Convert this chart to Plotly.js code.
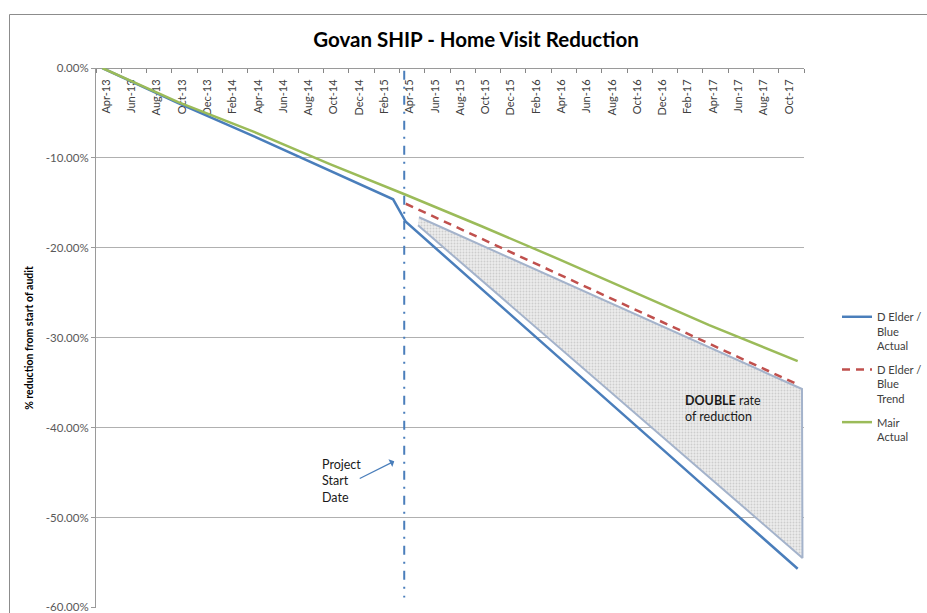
<!DOCTYPE html>
<html>
<head>
<meta charset="utf-8">
<script src="https://cdn.plot.ly/plotly-3.0.1.min.js"></script>
<style>
html,body{margin:0;padding:0;background:#fff;}
#chart{width:927px;height:613px;}
</style>
</head>
<body>
<div id="chart"></div>
<script>
// ---- data ----
const months = [
  'Apr-13','May-13','Jun-13','Jul-13','Aug-13','Sep-13','Oct-13','Nov-13','Dec-13','Jan-14','Feb-14','Mar-14',
  'Apr-14','May-14','Jun-14','Jul-14','Aug-14','Sep-14','Oct-14','Nov-14','Dec-14','Jan-15','Feb-15','Mar-15',
  'Apr-15','May-15','Jun-15','Jul-15','Aug-15','Sep-15','Oct-15','Nov-15','Dec-15','Jan-16','Feb-16','Mar-16',
  'Apr-16','May-16','Jun-16','Jul-16','Aug-16','Sep-16','Oct-16','Nov-16','Dec-16','Jan-17','Feb-17','Mar-17',
  'Apr-17','May-17','Jun-17','Jul-17','Aug-17','Sep-17','Oct-17','Nov-17'
];
const xTickLabels = ['Apr-13','Jun-13','Aug-13','Oct-13','Dec-13','Feb-14','Apr-14','Jun-14','Aug-14','Oct-14',
  'Dec-14','Feb-15','Apr-15','Jun-15','Aug-15','Oct-15','Dec-15','Feb-16','Apr-16','Jun-16','Aug-16','Oct-16',
  'Dec-16','Feb-17','Apr-17','Jun-17','Aug-17','Oct-17'];
const yTickValues = [0, -10, -20, -30, -40, -50, -60];
const yTickLabels = ['0.00%', '-10.00%', '-20.00%', '-30.00%', '-40.00%', '-50.00%', '-60.00%'];

const blueActualMonths = ['Apr-13','Oct-13','Apr-14','Oct-14','Mar-15','Apr-15','Oct-15','Apr-16','Oct-16','Apr-17','Nov-17'];
const blueActualValues = [0, -3.9, -7.6, -11.4, -14.6, -17.1, -24.6, -32.1, -39.5, -47.0, -55.7];

const blueTrendMonths = ['Apr-15','Nov-17'];
const blueTrendValues = [-15.1, -35.2];

const mairActualMonths = ['Apr-13','Oct-13','Apr-14','Oct-14','Apr-15','Oct-15','Apr-16','Oct-16','Apr-17','Nov-17'];
const mairActualValues = [0, -3.8, -7.1, -10.7, -14.1, -17.6, -21.2, -24.9, -28.6, -32.6];

// hand-drawn "double rate" region (month position, % reduction)
const regionMonthPos = [25.05, 55.34, 55.38, 24.97];
const regionValues = [-16.6, -35.7, -54.5, -17.5];

const projectStartMonth = 'Apr-15';

// ---- helpers ----
const pos = m => months.indexOf(m);
const FONT = 'Lato, "Open Sans", sans-serif';

const traces = [
  {
    x: regionMonthPos, y: regionValues, type: 'scatter', mode: 'lines',
    fill: 'toself', fillcolor: '#ebebeb',
    fillpattern: {shape: '.', bgcolor: '#ececec', fgcolor: '#cdcdcd', size: 3, solidity: 0.3},
    line: {color: '#a4b3cb', width: 2},
    showlegend: false, hoverinfo: 'skip'
  },
  {
    name: 'D Elder /<br>Blue<br>Actual', legendgroup: 'g1',
    x: blueActualMonths.map(pos), y: blueActualValues, type: 'scatter', mode: 'lines',
    line: {color: '#4a7ebb', width: 2.5}
  },
  {
    name: 'D Elder /<br>Blue<br>Trend', legendgroup: 'g2',
    x: blueTrendMonths.map(pos), y: blueTrendValues, type: 'scatter', mode: 'lines',
    line: {color: '#c0504d', width: 2.5, dash: '8px,6px'}
  },
  {
    name: 'Mair<br>Actual', legendgroup: 'g3',
    x: mairActualMonths.map(pos), y: mairActualValues, type: 'scatter', mode: 'lines',
    line: {color: '#9bbb59', width: 2.5}
  }
];

const layout = {
  width: 927, height: 613,
  margin: {l: 96, r: 123, t: 68, b: 5, pad: 0},
  paper_bgcolor: '#ffffff', plot_bgcolor: '#ffffff',
  font: {family: FONT, color: '#404040'},
  title: {
    text: '<b>Govan SHIP - Home Visit Reduction</b>',
    font: {family: FONT, size: 20.5, color: '#000000'},
    x: 0.5135, xanchor: 'center', y: 1 - 40/613, yanchor: 'middle'
  },
  xaxis: {
    type: 'linear', range: [-0.5, months.length - 0.5],
    anchor: 'free', position: 1, side: 'bottom',
    tickmode: 'array', tickvals: xTickLabels.map(pos), ticktext: xTickLabels,
    tickangle: -90, tickfont: {family: FONT, size: 11, color: '#404040'},
    ticks: 'outside', ticklen: 0, tickcolor: '#868686',
    ticklabelshift: 4, ticklabelstandoff: 6,
    minor: {tickmode: 'linear', tick0: -0.5, dtick: 2, ticks: 'outside', ticklen: 4, tickcolor: '#868686', showgrid: false},
    showgrid: false, zeroline: false,
    showline: true, linecolor: '#9a9a9a', linewidth: 1,
    layer: 'below traces', fixedrange: true
  },
  yaxis: {
    range: [-60.06, 0],
    tickmode: 'array', tickvals: yTickValues, ticktext: yTickLabels,
    tickfont: {family: FONT, size: 11.5, color: '#595959'},
    ticklabeloverflow: 'allow',
    ticks: 'outside', ticklen: 4, tickcolor: '#9a9a9a',
    showgrid: true, gridcolor: '#b0b0b0', gridwidth: 1,
    zeroline: false, showline: true, linecolor: '#9a9a9a', linewidth: 1,
    title: {text: '% reduction from start of audit', font: {family: FONT, size: 10.5, color: '#000000', weight: 700}, standoff: 10},
    fixedrange: true
  },
  legend: {
    xref: 'container', yref: 'container',
    x: 837 / 927, xanchor: 'left', y: 1 - 303 / 613, yanchor: 'top',
    font: {family: FONT, size: 11.2, color: '#404040'},
    valign: 'top', bgcolor: 'rgba(0,0,0,0)', tracegroupgap: 6
  },
  shapes: [
    {
      type: 'line', xref: 'x', yref: 'y',
      x0: pos(projectStartMonth) - 0.12, x1: pos(projectStartMonth) - 0.12, y0: -0.3, y1: -58.9,
      line: {color: '#4a7ebb', width: 2, dash: '9px,7px,2px,7px'}, layer: 'above'
    },
    {
      type: 'rect', xref: 'paper', yref: 'paper',
      x0: (9.5 - 96) / 708, x1: (960 - 96) / 708, y0: (608 - 640) / 540, y1: (608 - 14.5) / 540,
      line: {color: '#8c8c8c', width: 1}, fillcolor: 'rgba(0,0,0,0)', layer: 'below'
    }
  ],
  annotations: [
    {
      xref: 'x', yref: 'y', x: 45.93, y: -37.9, xanchor: 'left', yanchor: 'middle', align: 'left',
      text: '<b>DOUBLE</b> rate<br>of reduction', showarrow: false,
      font: {family: FONT, size: 12.5, color: '#1a1a1a'}
    },
    {
      xref: 'x', yref: 'y', x: 17.22, y: -45.9, xanchor: 'left', yanchor: 'middle', align: 'left',
      text: 'Project<br>Start<br>Date', showarrow: false,
      font: {family: FONT, size: 12.5, color: '#1a1a1a'}
    },
    {
      xref: 'x', yref: 'y', x: 23.09, y: -43.74, text: '', showarrow: true,
      ax: -36, ay: 18, arrowhead: 1, arrowsize: 1.2, arrowwidth: 1.2, arrowcolor: '#4a7ebb'
    }
  ]
};

Plotly.newPlot('chart', traces, layout, {displayModeBar: false, staticPlot: true});
</script>
</body>
</html>
